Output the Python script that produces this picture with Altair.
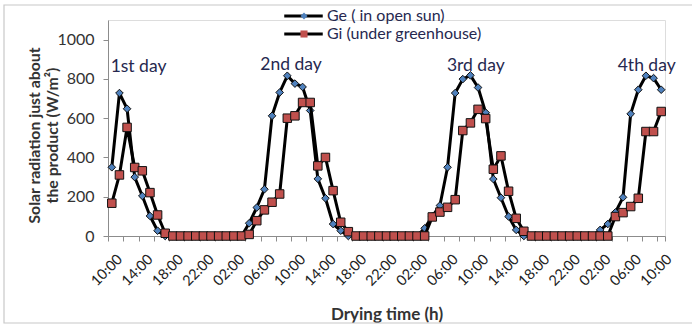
import altair as alt
import pandas as pd
import json

# ---------------- data ----------------
hour_index = list(range(73))  # hourly readings, 10:00 day 1 -> 10:00 day 4
tick_labels = ["10:00", "14:00", "18:00", "22:00", "02:00", "06:00",
               "10:00", "14:00", "18:00", "22:00", "02:00", "06:00",
               "10:00", "14:00", "18:00", "22:00", "02:00", "06:00",
               "10:00"]

ge_values = [350, 728, 648, 300, 204, 102, 27, 0,
             0, 0, 0, 0, 0, 0, 0, 0, 0, 0,
             65, 145, 238, 612, 731, 816, 776, 759, 639, 291, 192, 61, 27, 0,
             0, 0, 0, 0, 0, 0, 0, 0, 0,
             39, 100, 155, 350, 728, 799, 818, 756, 628, 290, 195, 99, 31, 0,
             0, 0, 0, 0, 0, 0, 0, 0, 0,
             31, 61, 120, 197, 622, 745, 816, 804, 745]

gi_values = [167, 311, 553, 349, 332, 221, 107, 14,
             0, 0, 0, 0, 0, 0, 0, 0, 0, 0,
             8, 78, 133, 172, 214, 600, 612, 680, 680, 357, 400, 231, 70, 22,
             0, 0, 0, 0, 0, 0, 0, 0, 0, 0,
             97, 122, 146, 185, 537, 576, 645, 598, 340, 408, 228, 90, 24,
             0, 0, 0, 0, 0, 0, 0, 0, 0, 0, 0,
             99, 119, 150, 192, 532, 532, 634]

series_names = ["Ge ( in open sun)", "Gi (under greenhouse)"]

day_labels = ["1st day", "2nd day", "3rd day", "4th day"]
day_label_x = [3.5, 23.5, 47.7, 70.1]
day_label_y = [860, 870, 865, 865]

y_ticks = [0, 200, 400, 600, 800, 1000]

# ---------------- frames ----------------
series_col = [series_names[0]] * len(ge_values) + [series_names[1]] * len(gi_values)
line_names = [n + " " for n in series_names]  # separate legend domain for the line keys
df = pd.DataFrame({
    "idx": hour_index * 2,
    "series": series_col,
    "line_series": [n + " " for n in series_col],
    "value": ge_values + gi_values,
})
ann = pd.DataFrame({"label": day_labels, "idx": day_label_x, "value": day_label_y})

FONT = "Lato"
TXT = "#26284f"
W, H = 557, 216

x_bounds = [i - 0.5 for i in range(0, 73, 2)] + [72.5]
label_expr = ("((datum.value + 0.5) % 4 == 0) ? " + json.dumps(tick_labels) +
              "[(datum.value + 0.5) / 4] : ''")

x_enc = alt.X("idx:Q",
              scale=alt.Scale(domain=[-0.5, 72.5], nice=False, zero=False),
              axis=alt.Axis(values=x_bounds, labelExpr=label_expr, labelAngle=-45,
                            labelAlign="right", labelBaseline="top",
                            labelOffset=7, labelPadding=11, labelOverlap=False,
                            labelFlush=False, labelBound=False,
                            labelFont=FONT, labelFontSize=14.5, labelColor="#222222",
                            tickSize=5, tickColor="#8c8c8c", domainColor="#8c8c8c",
                            grid=False,
                            title="Drying time (h)", titleFont=FONT, titleFontSize=17,
                            titleFontWeight="bold", titleColor="#333333",
                            titleBaseline="top", titleY=70, titleX=W / 2))
y_enc = alt.Y("value:Q",
              scale=alt.Scale(domain=[0, 1100], nice=False),
              axis=alt.Axis(values=y_ticks, format="d", grid=False, tickSize=5,
                            tickColor="#8c8c8c", domainColor="#8c8c8c",
                            labelFont=FONT, labelFontSize=16, labelColor="#333333",
                            labelPadding=9, labelOverlap=False,
                            title=["Solar radiation just about", "the product (W/m²)"],
                            titleFont=FONT, titleFontSize=15.8, titleFontWeight="bold",
                            titleColor="#333333", titleLineHeight=18,
                            titleBaseline="top", titleAlign="center",
                            titleAngle=-90, titleX=-81, titleY=115))

legend_lines = alt.Legend(title=None, orient="none", legendX=187.5, legendY=-12,
                          direction="vertical",
                          symbolType="M-3.5,0H3.5", symbolSize=121,
                          symbolStrokeWidth=3, symbolStrokeColor="black",
                          labelFont=FONT, labelFontSize=16, labelColor=TXT,
                          labelOffset=15.5, rowPadding=2, padding=0)
legend_pts = alt.Legend(title=None, orient="none", legendX=188, legendY=-12,
                        direction="vertical",
                        symbolSize=50, symbolStrokeColor="black", symbolStrokeWidth=1,
                        labelFont=FONT, labelFontSize=16, labelExpr="''",
                        rowPadding=2, padding=0)

color_enc = alt.Color("line_series:N",
                      scale=alt.Scale(domain=line_names, range=["#000000", "#000000"]),
                      legend=legend_lines)
shape_enc = alt.Shape("series:N",
                      scale=alt.Scale(domain=series_names, range=["diamond", "square"]),
                      legend=legend_pts)
fill_enc = alt.Fill("series:N",
                    scale=alt.Scale(domain=series_names, range=["#4f81bd", "#c0504d"]),
                    legend=legend_pts)

base = alt.Chart(df)

layers = []
for name, size in zip(series_names, [58, 72]):
    sub = base.transform_filter(alt.datum.series == name)
    layers.append(sub.mark_line(strokeWidth=3, strokeJoin="round").encode(
        x=x_enc, y=y_enc, color=color_enc))
    layers.append(sub.mark_point(filled=True, size=size, stroke="#111111",
                                 strokeWidth=1, opacity=1).encode(
        x=x_enc, y=y_enc, shape=shape_enc, fill=fill_enc))

text = alt.Chart(ann).mark_text(font=FONT, fontSize=17.5, color=TXT).encode(
    x=x_enc, y=y_enc, text="label:N")

border = alt.Chart(alt.Data(values=[{}])).mark_rect(
    fill=None, stroke="#c8c8c8", strokeWidth=1.2).encode(
    x=alt.value(-104), x2=alt.value(W + 40), y=alt.value(-15), y2=alt.value(H + 87))

chart = alt.layer(border, *layers, text).properties(
    width=W, height=H,
    autosize=alt.AutoSizeParams(type="none"),
    padding={"left": 108, "top": 20, "right": 692 - 108 - W, "bottom": 326 - 20 - H},
).configure_view(strokeWidth=0).configure(background="white")

chart.save("out.html", embed_options={"renderer": "svg", "actions": False})
